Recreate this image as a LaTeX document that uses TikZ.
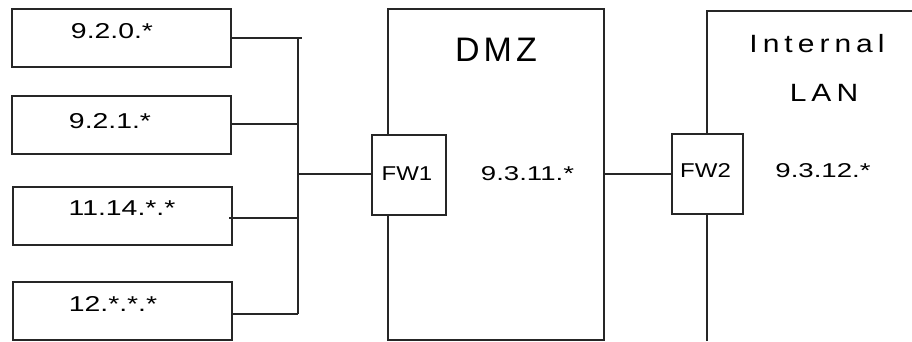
\documentclass[tikz,border=0pt]{standalone}
\usepackage{fontspec}
\setmainfont{Liberation Sans}
\newfontfamily\boxfont[FakeStretch=1.32]{Liberation Sans}
\newfontfamily\fwfont[FakeStretch=1.2]{Liberation Sans}
\newfontfamily\addrfont[FakeStretch=1.38]{Liberation Sans}
\newfontfamily\dmzfont[LetterSpace=12]{Liberation Sans}
\newfontfamily\lanfont[FakeStretch=1.2,LetterSpace=20]{Liberation Sans}
\begin{document}
\begin{tikzpicture}[x=1pt,y=-1pt,
  line/.style={line width=1.3pt, draw=black!85},
  netbox/.style={line, fill=white},
  small/.style={font=\boxfont\fontsize{21.5}{24}\selectfont, anchor=base, inner sep=0pt},
  fwlab/.style={font=\fwfont\fontsize{20}{24}\selectfont, anchor=base, inner sep=0pt},
  addr/.style={font=\addrfont\fontsize{20}{24}\selectfont, anchor=base, inner sep=0pt},
  big/.style={font=\dmzfont\fontsize{34}{38}\selectfont, anchor=base, inner sep=0pt},
  lan/.style={font=\lanfont\fontsize{25}{30}\selectfont, anchor=base, inner sep=0pt}]
\useasboundingbox (0,0) rectangle (912,341);
% left networks
\draw[netbox] (12,9) rectangle (231,67);
\node[small] (n1) at (112,38) {9.2.0.*};
\draw[netbox] (12,96) rectangle (231,154);
\node[small] (n2) at (110,128) {9.2.1.*};
\draw[netbox] (13,187) rectangle (232,245);
\node[small] (n3) at (122,215.5) {11.14.*.*};
\draw[netbox] (13,282) rectangle (232,340);
\node[small] (n4) at (113,311.5) {12.*.*.*};
% bus
\coordinate (b1) at (302,38);
\coordinate (bt) at (298,38);
\coordinate (bb) at (298,314);
\draw[line] (231,38) -- (b1);
\draw[line] (bt) -- (bb);
\draw[line] (231,124) -- (298,124);
\draw[line] (229,218) -- (298,218);
\draw[line] (232,314) -- (bb);
% DMZ
\draw[line] (388,9) rectangle (604,340);
\node[big] (dmz) at (496,61) {DMZ};
\draw[line] (298,174) -- (372,174);
\draw[netbox] (372,135) rectangle (446,215);
\node[fwlab] (fw1) at (407,180) {FW1};
\node[addr] (d1) at (527.5,180) {9.3.11.*};
% Internal LAN
\draw[line] (707,341) -- (707,11) -- (912,11);
\node[lan] (int) at (817,52.5) {Internal};
\node[lan] (lanl) at (824,101.5) {LAN};
\draw[line] (604,174) -- (672,174);
\draw[netbox] (672,134) rectangle (743,214);
\node[fwlab] (fw2) at (705.5,177) {FW2};
\node[addr] (d2) at (823,177) {9.3.12.*};
\end{tikzpicture}
\end{document}
